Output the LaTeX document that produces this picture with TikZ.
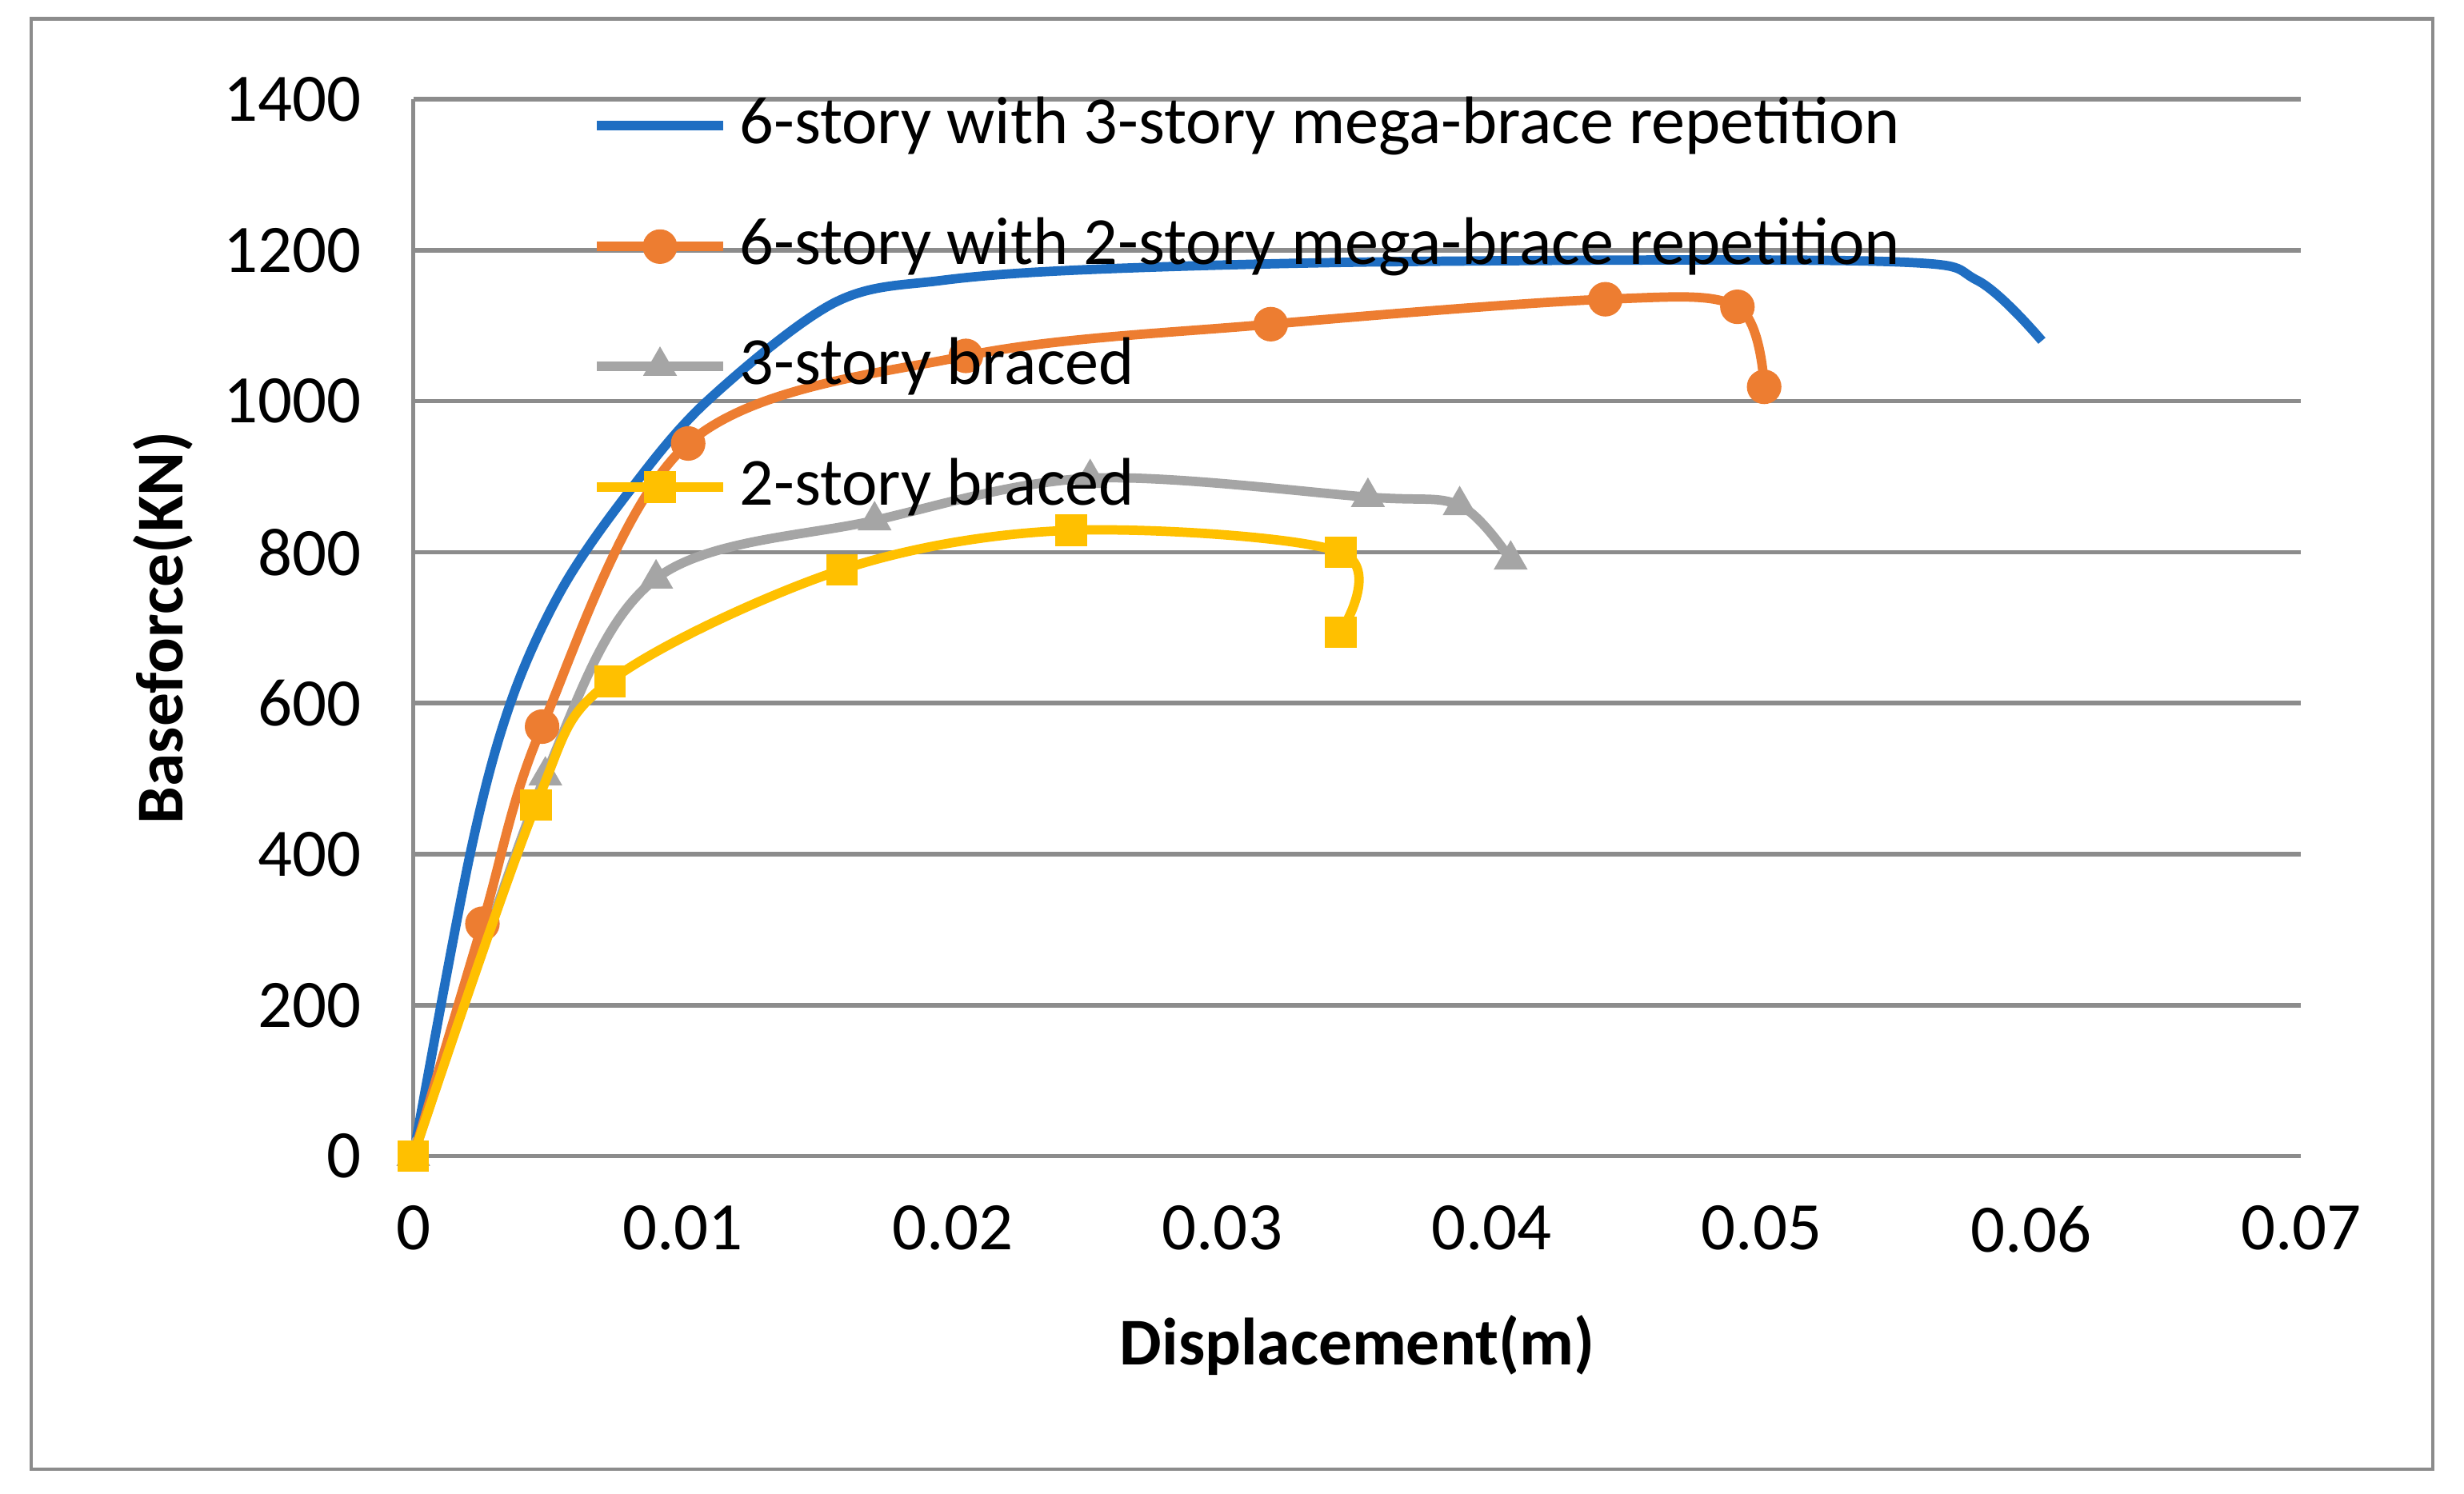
\documentclass[tikz,border=0pt]{standalone}
\usepackage{fontspec}
\setmainfont{Carlito}
\usetikzlibrary{shapes.geometric}
\definecolor{cblue}{HTML}{1F6EC2}
\definecolor{corange}{HTML}{ED7D31}
\definecolor{cgray}{HTML}{A5A5A5}
\definecolor{cyel}{HTML}{FFC000}
\definecolor{grid}{HTML}{8C8C8C}
\tikzset{
 ser/.style={line width=1.7pt,smooth,tension=0.55},
 mo/.style={circle,fill=corange,inner sep=0pt,minimum size=0.22cm},
 mg/.style={regular polygon,regular polygon sides=3,fill=cgray,inner sep=0pt,minimum size=0.25cm},
 my/.style={rectangle,fill=cyel,inner sep=0pt,minimum size=0.2cm},
 tick/.style={font=\fontsize{12.3}{14}\selectfont},
 leg/.style={font=\fontsize{12.2}{14}\selectfont,anchor=west,inner sep=0pt},
 axlab/.style={font=\bfseries\fontsize{12.1}{14}\selectfont}
}
\begin{document}
\begin{tikzpicture}
\useasboundingbox (0,0) rectangle (15.68,9.506);
\draw[grid,line width=0.6pt] (0.2,0.156) rectangle (15.48,9.386);
\begin{scope}[shift={(2.63,2.146)},x=171.6cm,y=0.0048cm]
 \foreach \f in {200,400,...,1400} \draw[grid,line width=0.8pt] (0,\f) -- (0.07,\f);
 \draw[grid,line width=0.8pt] (0,0) -- (0,1400);
 \draw[grid,line width=0.8pt] (0,0) -- (0.07,0);
 \foreach \f in {0,200,...,1400} \node[tick,anchor=east] (yl\f) at (-0.0012,\f) {\f};
 \foreach \d/\t in {0/0,0.01/0.01,0.02/0.02,0.03/0.03,0.04/0.04,0.05/0.05,0.06/0.06,0.07/0.07}
   \node[tick,anchor=north] (xl\t) at (\d,-40) {\t};
 \node[axlab] (xt) at (0.035,-250) {Displacement(m)};
 \node[axlab,rotate=90] (yt) at (-0.0093,700) {Baseforce(KN)};
 % blue
 \draw[cblue,ser] plot coordinates {(0,0) (0.0021,400) (0.0036,600) (0.0055,750) (0.008,880) (0.0109,1000) (0.0156,1130) (0.0196,1160) (0.0255,1175) (0.037,1185) (0.0546,1185) (0.058,1160) (0.0604,1080)};
 % gray
 \draw[cgray,ser] plot coordinates {(0,0) (0.0049,504) (0.0090,765) (0.0171,842) (0.0251,898) (0.0354,873) (0.0388,862) (0.0407,790)};
 \foreach \p in {(0,0),(0.0049,504),(0.0090,765),(0.0171,842),(0.0251,898),(0.0354,873),(0.0388,862),(0.0407,790)} \node[mg] at \p {};
 % orange
 \draw[corange,ser] plot coordinates {(0,0) (0.00256,308) (0.00478,569) (0.0102,944) (0.0205,1060) (0.0318,1102) (0.0442,1135) (0.0491,1125) (0.0501,1019)};
 \foreach \p in {(0.00256,308),(0.00478,569),(0.0102,944),(0.0205,1060),(0.0318,1102),(0.0442,1135),(0.0491,1125),(0.0501,1019)} \node[mo] at \p {};
 % yellow
 \draw[cyel,ser] plot coordinates {(0,0) (0.00455,465) (0.0073,629) (0.0159,777) (0.0244,829) (0.0344,800) (0.0344,694)};
 \foreach \p in {(0,0),(0.00455,465),(0.0073,629),(0.0159,777),(0.0244,829),(0.0344,800),(0.0344,694)} \node[my] at \p {};
\end{scope}
% legend
\coordinate (a1) at (3.8,8.706); \coordinate (b1) at (4.6,8.706);
\coordinate (a2) at (3.8,7.936); \coordinate (b2) at (4.6,7.936);
\coordinate (a3) at (3.8,7.176); \coordinate (b3) at (4.6,7.176);
\coordinate (a4) at (3.8,6.406); \coordinate (b4) at (4.6,6.406);
\draw[cblue,line width=1.7pt] (a1) -- (b1);
\draw[corange,line width=1.7pt] (a2) -- (b2) node[mo,pos=0.5]{};
\draw[cgray,line width=1.7pt] (a3) -- (b3) node[mg,pos=0.5]{};
\draw[cyel,line width=1.7pt] (a4) -- (b4) node[my,pos=0.5]{};
\node[leg] (l1) at (4.7,8.706) {6-story with 3-story mega-brace repetition};
\node[leg] (l2) at (4.7,7.936) {6-story with 2-story mega-brace repetition};
\node[leg] (l3) at (4.7,7.176) {3-story braced};
\node[leg] (l4) at (4.7,6.406) {2-story braced};
\end{tikzpicture}
\end{document}
